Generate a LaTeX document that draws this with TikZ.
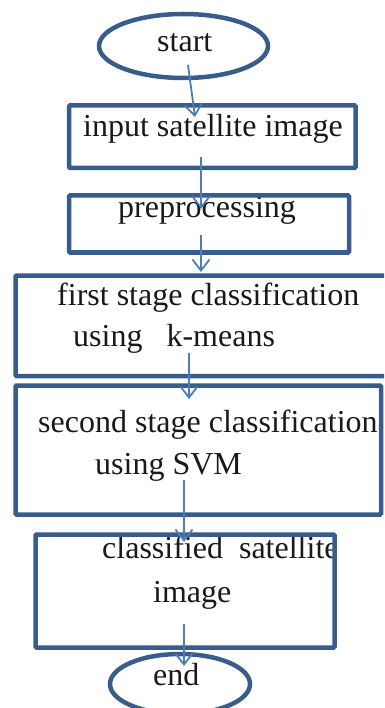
\documentclass[tikz,border=0pt]{standalone}
\usepackage{fontspec}
\setmainfont{Liberation Serif}
\usetikzlibrary{arrows.meta,shapes.geometric}
\definecolor{boxblue}{HTML}{385D8A}
\definecolor{arrowblue}{HTML}{4A7EBB}
\tikzset{
  stepbox/.style={draw=boxblue, line width=4.5pt, rectangle, rounded corners=1pt, inner sep=0pt},
  termbox/.style={draw=boxblue, line width=4.5pt, ellipse, inner sep=0pt},
  label/.style={anchor=base west, inner sep=0pt, text=black!90,
    font=\fontsize{32}{36}\selectfont},
  flow/.style={draw=arrowblue, line width=1.8pt,
    -{Straight Barb[length=11pt,width=17pt,line width=1.8pt]}},
}
\begin{document}
\begin{tikzpicture}[x=1pt,y=-1pt]
\useasboundingbox (0,0) rectangle (384,708);
\clip (0,0) rectangle (384,708);

% texts
\node[label] (tstart) at (157,52) {start};
\node[label] (tinput) at (83,137) {input satellite image};
\node[label] (tpre) at (118,218) {preprocessing};
\node[label] (tfirstA) at (57,305) {first stage classification};
\node[label] (tfirstB) at (73,346) {using~~~k-means};
\node[label] (tsecA) at (38,432) {second stage classification};
\node[label] (tsecB) at (95,474) {using SVM};
\begin{scope}
  \clip (35.5,534.5) rectangle (334.5,647.5);
  \node[label] (tclsA) at (102,558) {classified~~satellite};
\end{scope}
\node[label] (tclsB) at (153,602) {image};
\node[label] (tend) at (153,685) {end};

% shapes
\node[termbox, minimum width=169pt, minimum height=64pt] (start) at (183.5,46) {};
\node[stepbox, minimum width=286.5pt, minimum height=62.5pt] (input) at (212.25,136.75) {};
\node[stepbox, minimum width=280pt, minimum height=57pt] (pre) at (209,224) {};
\node[stepbox, minimum width=376pt, minimum height=100.5pt] (first) at (203.5,325.75) {};
\node[stepbox, minimum width=365.5pt, minimum height=129pt] (second) at (198.25,450) {};
\node[stepbox, minimum width=299pt, minimum height=113pt] (cls) at (185,591) {};
\node[termbox, minimum width=140pt, minimum height=60pt] (end) at (180,684) {};

% connector end points
\coordinate (s1) at (188,65);   \coordinate (e1) at (195,117);
\coordinate (s2) at (201,157);  \coordinate (e2) at (201,209);
\coordinate (s3) at (201,235);  \coordinate (e3) at (201,272);
\coordinate (s4) at (189,353);  \coordinate (e4) at (189,399);
\coordinate (s5) at (184,480);  \coordinate (e5) at (184,542);
\coordinate (s6) at (184,624);  \coordinate (e6) at (184,666);

% connectors
\draw[flow] (s1) -- (e1);
\draw[flow] (s2) -- (e2);
\draw[flow] (s3) -- (e3);
\draw[flow] (s4) -- (e4);
\draw[flow] (s5) -- (e5);
\draw[flow] (s6) -- (e6);
\end{tikzpicture}
\end{document}
